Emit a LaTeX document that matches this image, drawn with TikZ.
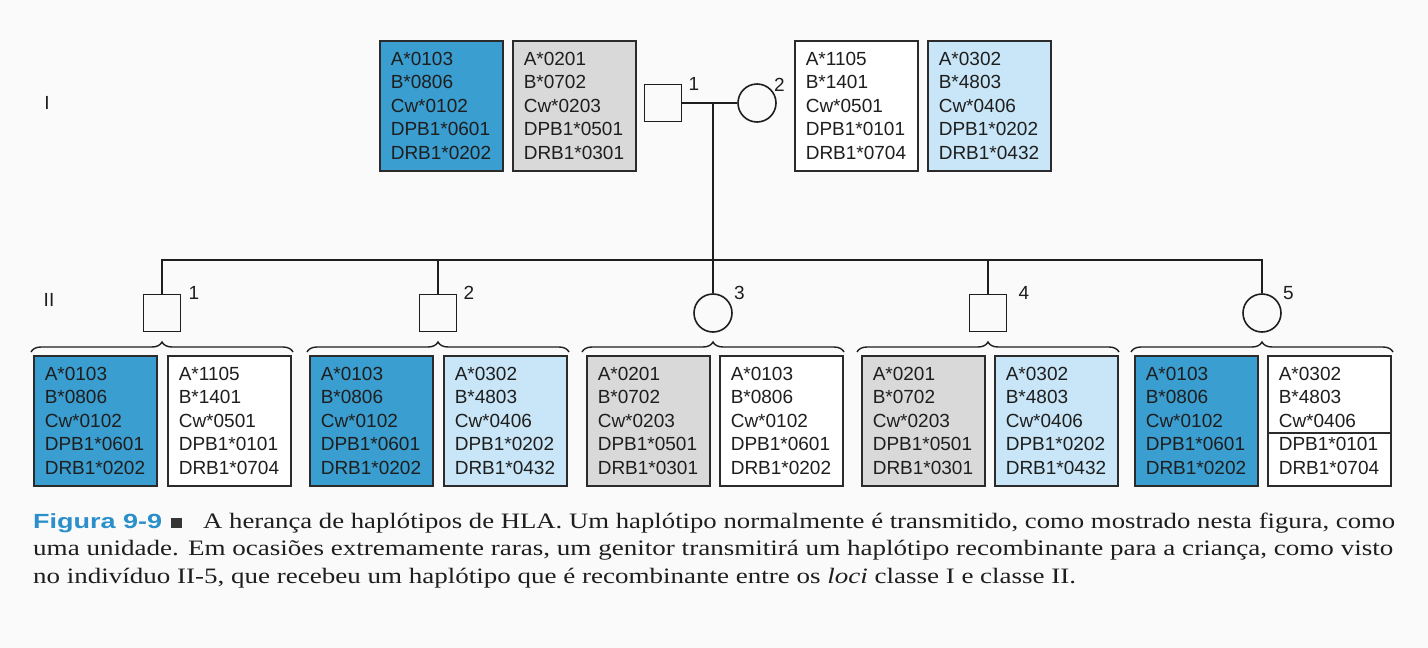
\documentclass[tikz,border=0pt]{standalone}
\usepackage{fontspec}
\usepackage{graphicx}
\newfontfamily\boxfont{Liberation Sans}
\newfontfamily\capfont{Liberation Serif}
\usetikzlibrary{decorations.pathreplacing,backgrounds,calc}

\definecolor{hapdark}{HTML}{3A9ED0}
\definecolor{haplight}{HTML}{C8E6F7}
\definecolor{hapgray}{HTML}{D9D9D9}
\definecolor{edgecol}{HTML}{2B2B2B}
\definecolor{figblue}{HTML}{2A8FCB}
\definecolor{pagebg}{HTML}{F9FAF9}
\definecolor{inkcol}{HTML}{1E1E1E}

\newlength\capw
\newcommand\fitline[2]{\settowidth\capw{#2}\pgfmathsetmacro\capf{#1/\capw}\scalebox{\capf}[1]{#2}}

\begin{document}
\begin{tikzpicture}[x=1pt,y=-1pt,
  hapbox/.style={draw=edgecol, line width=1.6pt, anchor=north west,
    minimum width=123pt, minimum height=130pt, text width=101pt,
    inner xsep=11pt, inner ysep=0pt, align=left, text=inkcol,
    font=\boxfont\fontsize{19}{23.5}\selectfont},
  ped/.style={line width=1.6pt, draw=inkcol},
  male/.style={ped, rectangle, minimum size=37pt, inner sep=0pt},
  female/.style={ped, circle, minimum size=38pt, inner sep=0pt},
  numlab/.style={font=\boxfont\fontsize{19}{19}\selectfont, inner sep=0pt, anchor=base west, text=inkcol},
  genlab/.style={font=\boxfont\fontsize{19}{19}\selectfont, inner sep=0pt, text=inkcol},
  sibbrace/.style={draw=inkcol, line width=1.4pt, decorate, decoration={brace, amplitude=10pt}},
  capline/.style={anchor=base west, inner sep=0pt, text=inkcol, font=\capfont\fontsize{22}{22}\selectfont}
]
\useasboundingbox (0,0) rectangle (1428,648);
\begin{scope}[on background layer]
  \fill[pagebg] (0,0) rectangle (1428,648);
\end{scope}

% generation labels
\node[genlab] (genI) at (47,103) {I};
\node[genlab] (genII) at (49,300) {II};

% parents
\node[male] (f) at (663,103) {};
\node[female] (m) at (757,103) {};
\node[numlab] (fl) at ($(f.north east)+(6,7)$) {1};
\node[numlab] (ml) at ($(m.north east)+(3,2)$) {2};
\coordinate (mid) at (713,103);
\coordinate (sib) at (713,260);
\draw[ped] (f) -- (m);

% children
\node[male] (c1) at (162,313) {};
\node[male] (c2) at (438,313) {};
\node[female] (c3) at (713,313) {};
\node[male] (c4) at (988,313) {};
\node[female] (c5) at (1262,313) {};
\node[numlab] (c1l) at ($(c1.north east)+(7,6)$) {1};
\node[numlab] (c2l) at ($(c2.north east)+(6,6)$) {2};
\node[numlab] (c3l) at ($(c3.north east)+(7,0)$) {3};
\node[numlab] (c4l) at ($(c4.north east)+(11,6)$) {4};
\node[numlab] (c5l) at ($(c5.north east)+(7,0)$) {5};

\draw[ped] (c1.north) -- (c1 |- sib) -- (c5 |- sib) -- (c5.north);
\draw[ped] (mid) -- (c3.north);
\draw[ped] (c2 |- sib) -- (c2.north);
\draw[ped] (c4 |- sib) -- (c4.north);

% braces
\foreach \c in {c1,c2,c3,c4,c5}{
  \draw[sibbrace] ($(\c)+(-131,39)$) -- ($(\c)+(131,39)$);
}

% parental haplotypes
\node[hapbox, fill=hapdark] (p1) at (379,40) {A*0103\\B*0806\\Cw*0102\\DPB1*0601\\DRB1*0202};
\node[hapbox, fill=hapgray] (p2) at (512,40) {A*0201\\B*0702\\Cw*0203\\DPB1*0501\\DRB1*0301};
\node[hapbox, fill=white] (p3) at (794,40) {A*1105\\B*1401\\Cw*0501\\DPB1*0101\\DRB1*0704};
\node[hapbox, fill=haplight] (p4) at (927,40) {A*0302\\B*4803\\Cw*0406\\DPB1*0202\\DRB1*0432};

% children haplotypes
\node[hapbox, fill=hapdark] (h1a) at (33,355) {A*0103\\B*0806\\Cw*0102\\DPB1*0601\\DRB1*0202};
\node[hapbox, fill=white] (h1b) at (167,355) {A*1105\\B*1401\\Cw*0501\\DPB1*0101\\DRB1*0704};

\node[hapbox, fill=hapdark] (h2a) at (309,355) {A*0103\\B*0806\\Cw*0102\\DPB1*0601\\DRB1*0202};
\node[hapbox, fill=haplight] (h2b) at (443,355) {A*0302\\B*4803\\Cw*0406\\DPB1*0202\\DRB1*0432};

\node[hapbox, fill=hapgray] (h3a) at (586,355) {A*0201\\B*0702\\Cw*0203\\DPB1*0501\\DRB1*0301};
\node[hapbox, fill=white] (h3b) at (719,355) {A*0103\\B*0806\\Cw*0102\\DPB1*0601\\DRB1*0202};

\node[hapbox, fill=hapgray] (h4a) at (861,355) {A*0201\\B*0702\\Cw*0203\\DPB1*0501\\DRB1*0301};
\node[hapbox, fill=haplight] (h4b) at (994,355) {A*0302\\B*4803\\Cw*0406\\DPB1*0202\\DRB1*0432};

\node[hapbox, fill=hapdark] (h5a) at (1134,355) {A*0103\\B*0806\\Cw*0102\\DPB1*0601\\DRB1*0202};
\node[hapbox, fill=white] (h5b) at (1267,355) {A*0302\\B*4803\\Cw*0406\\DPB1*0101\\DRB1*0704};
\begin{scope}[on background layer]
  \fill[haplight] (h5b.north west) rectangle ($(h5b.north east)+(0,78)$);
\end{scope}
\draw[draw=edgecol, line width=1.6pt] ($(h5b.north west)+(0,78)$) -- ($(h5b.north east)+(0,78)$);

% caption
\node[anchor=base west, inner sep=0pt, text=figblue, font=\boxfont\bfseries\fontsize{20.5}{20.5}\selectfont] (figlab) at (33,528) {\fitline{129}{Figura 9-9}};
\node[fill=inkcol!90, minimum width=11pt, minimum height=10pt, inner sep=0pt, anchor=south west] (sq) at (171,528) {};
\node[capline] (l1) at (203,528) {\fitline{1192}{A herança de haplótipos de HLA. Um haplótipo normalmente é transmitido, como mostrado nesta figura, como}};
\node[capline] (l2) at (33,555.5) {\fitline{1360}{uma unidade. Em ocasiões extremamente raras, um genitor transmitirá um haplótipo recombinante para a criança, como visto}};
\node[capline] (l3) at (33,583) {\fitline{1043}{no indivíduo II-5, que recebeu um haplótipo que é recombinante entre os \textit{loci} classe I e classe II.}};
\end{tikzpicture}
\end{document}
